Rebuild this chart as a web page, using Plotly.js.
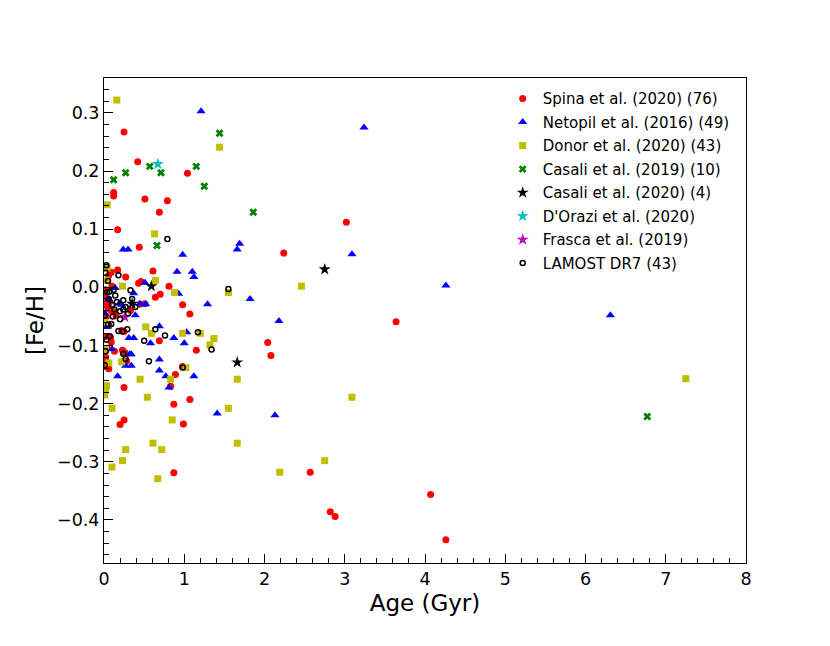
<!DOCTYPE html>
<html>
<head>
<meta charset="utf-8">
<script src="https://cdn.plot.ly/plotly-3.0.1.min.js"></script>
<style>
body { margin: 0; background: #fff; }
#myDiv { width: 830px; height: 646px; }
</style>
</head>
<body>
<div id="myDiv"></div>
<script>
// ages in Gyr, metallicities [Fe/H]
var spinaAge = [0.25, 0.42, 0.12, 0.12, 0.51, 0.79, 1.04, 0.69, 0.17, 0.44,
    3.02, 2.24, 3.64, 2.04, 2.08, 2.57, 2.82, 2.88, 4.07, 4.26,
    0.61, 0.27, 0.09, 0.06, 0.43, 0.46, 0.81, 0.64, 0.70, 0.98,
    1.07, 0.45, 0.51, 0.69, 1.15, 0.98, 0.89, 0.83, 0.25, 0.87,
    1.07, 0.23, 0.26, 0.05, 0.09, 0.22, 0.25, 0.08, 0.09, 0.02,
    0.02, 0.20, 0.25, 0.99, 0.87, 0.02, 0.01, 0.03, 0.07, 0.05,
    0.12, 0.15, 0.28, 0.01, 0.01, 0.03, 0.06, 0.01, 0.04, 0.02,
    0.17, 0.04, 0.10, 0.33, 0.13, 0.06];
var spinaFeH = [0.267, 0.216, 0.163, 0.157, 0.152, 0.149, 0.196, 0.129, 0.099, 0.069,
    0.112, 0.059, -0.059, -0.095, -0.117, -0.318, -0.386, -0.394, -0.356, -0.434,
    0.028, 0.018, 0.026, 0.021, 0.007, 0.010, 0.002, -0.017, -0.012, -0.030,
    -0.046, -0.029, -0.028, -0.092, -0.108, -0.136, -0.150, -0.170, -0.172, -0.201,
    -0.193, -0.108, -0.112, -0.031, -0.040, -0.074, -0.076, -0.086, -0.094, -0.126,
    -0.131, -0.236, -0.228, -0.235, -0.319, -0.004, -0.013, -0.022, -0.025, -0.037,
    -0.042, -0.049, -0.127, -0.136, -0.030, -0.050, -0.065, -0.085, -0.105, -0.120,
    0.030, 0.012, 0.002, -0.040, -0.110, -0.140];

var netopilAge = [1.21, 3.24, 1.69, 1.66, 0.24, 0.30, 0.98, 3.09, 0.91, 1.10,
    1.12, 0.51, 0.14, 0.37, 0.93, 1.29, 1.82, 0.45, 0.52, 0.19,
    0.22, 0.39, 0.04, 0.69, 0.31, 0.37, 0.58, 0.87, 1.03, 1.00,
    0.10, 0.32, 0.34, 0.69, 0.27, 0.34, 0.69, 0.77, 1.12, 0.17,
    0.81, 1.41, 2.13, 2.18, 4.26, 6.31, 0.02, 0.01, 0.06];
var netopilFeH = [0.303, 0.275, 0.075, 0.065, 0.065, 0.065, 0.056, 0.057, 0.027, 0.027,
    0.018, 0.008, -0.001, -0.010, -0.011, -0.029, -0.020, -0.028, -0.029, -0.028,
    -0.030, -0.048, -0.068, -0.067, -0.087, -0.087, -0.096, -0.087, -0.077, -0.096,
    -0.106, -0.115, -0.115, -0.124, -0.135, -0.135, -0.143, -0.153, -0.153, -0.153,
    -0.172, -0.217, -0.220, -0.058, 0.003, -0.048, -0.066, -0.045, -0.020];

var donorAge = [0.16, 1.44, 0.04, 0.63, 0.04, 0.23, 0.64, 0.88, 1.55, 0.52,
    0.59, 0.98, 1.20, 1.37, 1.32, 0.22, 1.02, 0.45, 0.83, 1.66,
    0.03, 0.54, 1.55, 0.10, 0.85, 0.61, 1.66, 0.27, 0.72, 0.23,
    0.10, 0.67, 2.19, 2.75, 3.09, 2.46, 7.25, 0.02, 0.01, 0.03,
    0.02, 0.01, 0.06];
var donorFeH = [0.322, 0.241, 0.142, 0.092, 0.033, 0.002, 0.012, -0.009, -0.009, -0.068,
    -0.079, -0.079, -0.079, -0.088, -0.099, -0.128, -0.138, -0.158, -0.158, -0.158,
    -0.169, -0.189, -0.208, -0.208, -0.228, -0.268, -0.268, -0.279, -0.279, -0.298,
    -0.309, -0.329, -0.318, -0.298, -0.189, 0.002, -0.157, -0.176, -0.060, 0.012,
    -0.107, -0.185, -0.130];

var casali19Age = [1.44, 0.27, 0.12, 0.57, 0.71, 1.15, 1.25, 1.86, 0.66, 6.77];
var casali19FeH = [0.265, 0.197, 0.185, 0.208, 0.197, 0.208, 0.174, 0.129, 0.072, -0.222];

var casali20Age = [2.75, 1.66, 0.59, 0.35];
var casali20FeH = [0.031, -0.129, 0.002, -0.028];

var dorAge = [0.67];
var dorFeH = [0.212];

var frascaAge = [0.26];
var frascaFeH = [-0.051];

var lamostAge = [0.79, 0.03, 0.18, 1.55, 1.17, 1.34, 0.76, 0.64, 0.50, 0.56,
    0.98, 0.27, 0.24, 0.29, 0.23, 0.07, 0.09, 0.05, 0.20, 0.20,
    0.24, 0.13, 0.27, 0.35, 0.39, 0.24, 0.14, 0.04, 0.07, 0.12,
    0.05, 0.01, 0.01, 0.02, 0.06, 0.10, 0.16, 0.03, 0.11, 0.30,
    0.18, 0.02, 0.33];
var lamostFeH = [0.083, 0.038, 0.021, -0.003, -0.077, -0.107, -0.083, -0.072, -0.092, -0.127,
    -0.138, -0.123, -0.114, -0.072, -0.076, -0.084, -0.063, -0.064, -0.055, -0.041,
    -0.038, -0.038, -0.034, -0.020, -0.034, -0.022, -0.014, -0.008, -0.007, -0.004,
    0.011, -0.049, -0.134, 0.025, -0.020, -0.030, -0.025, -0.090, -0.050, -0.045,
    -0.075, -0.110, -0.005];

var names = ['Spina et al. (2020) (76)', 'Netopil et al. (2016) (49)', 'Donor et al. (2020) (43)',
    'Casali et al. (2019) (10)', 'Casali et al. (2020) (4)', "D'Orazi et al. (2020)",
    'Frasca et al. (2019)', 'LAMOST DR7 (43)'];

function pts(i, x, y, symbol, color, size, lineW) {
    return {
        x: x, y: y,
        type: 'scatter',
        mode: 'markers',
        name: names[i],
        legendgroup: 'g' + i,
        marker: {
            symbol: symbol,
            color: color,
            size: size,
            line: { width: lineW || 0, color: color }
        }
    };
}

var data = [
    pts(0, spinaAge, spinaFeH, 'circle', '#ff0000', 7),
    pts(1, netopilAge, netopilFeH, 'triangle-up', '#0000ff', 8),
    pts(2, donorAge, donorFeH, 'square', '#bfbf00', 7),
    pts(3, casali19Age, casali19FeH, 'x', '#008000', 7),
    pts(4, casali20Age, casali20FeH, 'star', '#000000', 9),
    pts(5, dorAge, dorFeH, 'star', '#00bfbf', 9),
    pts(6, frascaAge, frascaFeH, 'star', '#bf00bf', 9),
    pts(7, lamostAge, lamostFeH, 'circle-open', '#000000', 5, 1.5)
];

var axisCommon = {
    showgrid: false,
    zeroline: false,
    showline: true,
    linecolor: '#000',
    linewidth: 1,
    mirror: true,
    ticks: 'inside',
    ticklen: 9,
    tickwidth: 1,
    tickcolor: '#000',
    tickfont: { family: 'DejaVu Sans', size: 17.5, color: '#000' }
};

var layout = {
    width: 830,
    height: 646,
    paper_bgcolor: '#fff',
    plot_bgcolor: '#fff',
    margin: { l: 104, r: 84, t: 78, b: 83 },
    font: { family: 'DejaVu Sans', color: '#000' },
    xaxis: Object.assign({}, axisCommon, {
        range: [0, 8],
        dtick: 1,
        tick0: 0,
        minor: { dtick: 0.2, ticks: 'inside', ticklen: 5, tickcolor: '#000' },
        title: { text: 'Age (Gyr)', font: { size: 23 }, standoff: 6 }
    }),
    yaxis: Object.assign({}, axisCommon, {
        range: [-0.474, 0.36],
        dtick: 0.1,
        tick0: 0,
        tickformat: '.1f',
        minor: { dtick: 0.02, ticks: 'inside', ticklen: 5, tickcolor: '#000' },
        title: { text: '[Fe/H]', font: { size: 23 }, standoff: 6 }
    }),
    showlegend: true,
    legend: {
        x: 0.621,
        y: 0.991,
        xanchor: 'left',
        yanchor: 'top',
        bgcolor: 'rgba(0,0,0,0)',
        font: { family: 'DejaVu Sans', size: 15, color: '#000' },
        traceorder: 'grouped',
        tracegroupgap: 1,
        itemsizing: 'trace'
    }
};

Plotly.newPlot(document.getElementById('myDiv'), data, layout, { displayModeBar: false });
</script>
</body>
</html>
